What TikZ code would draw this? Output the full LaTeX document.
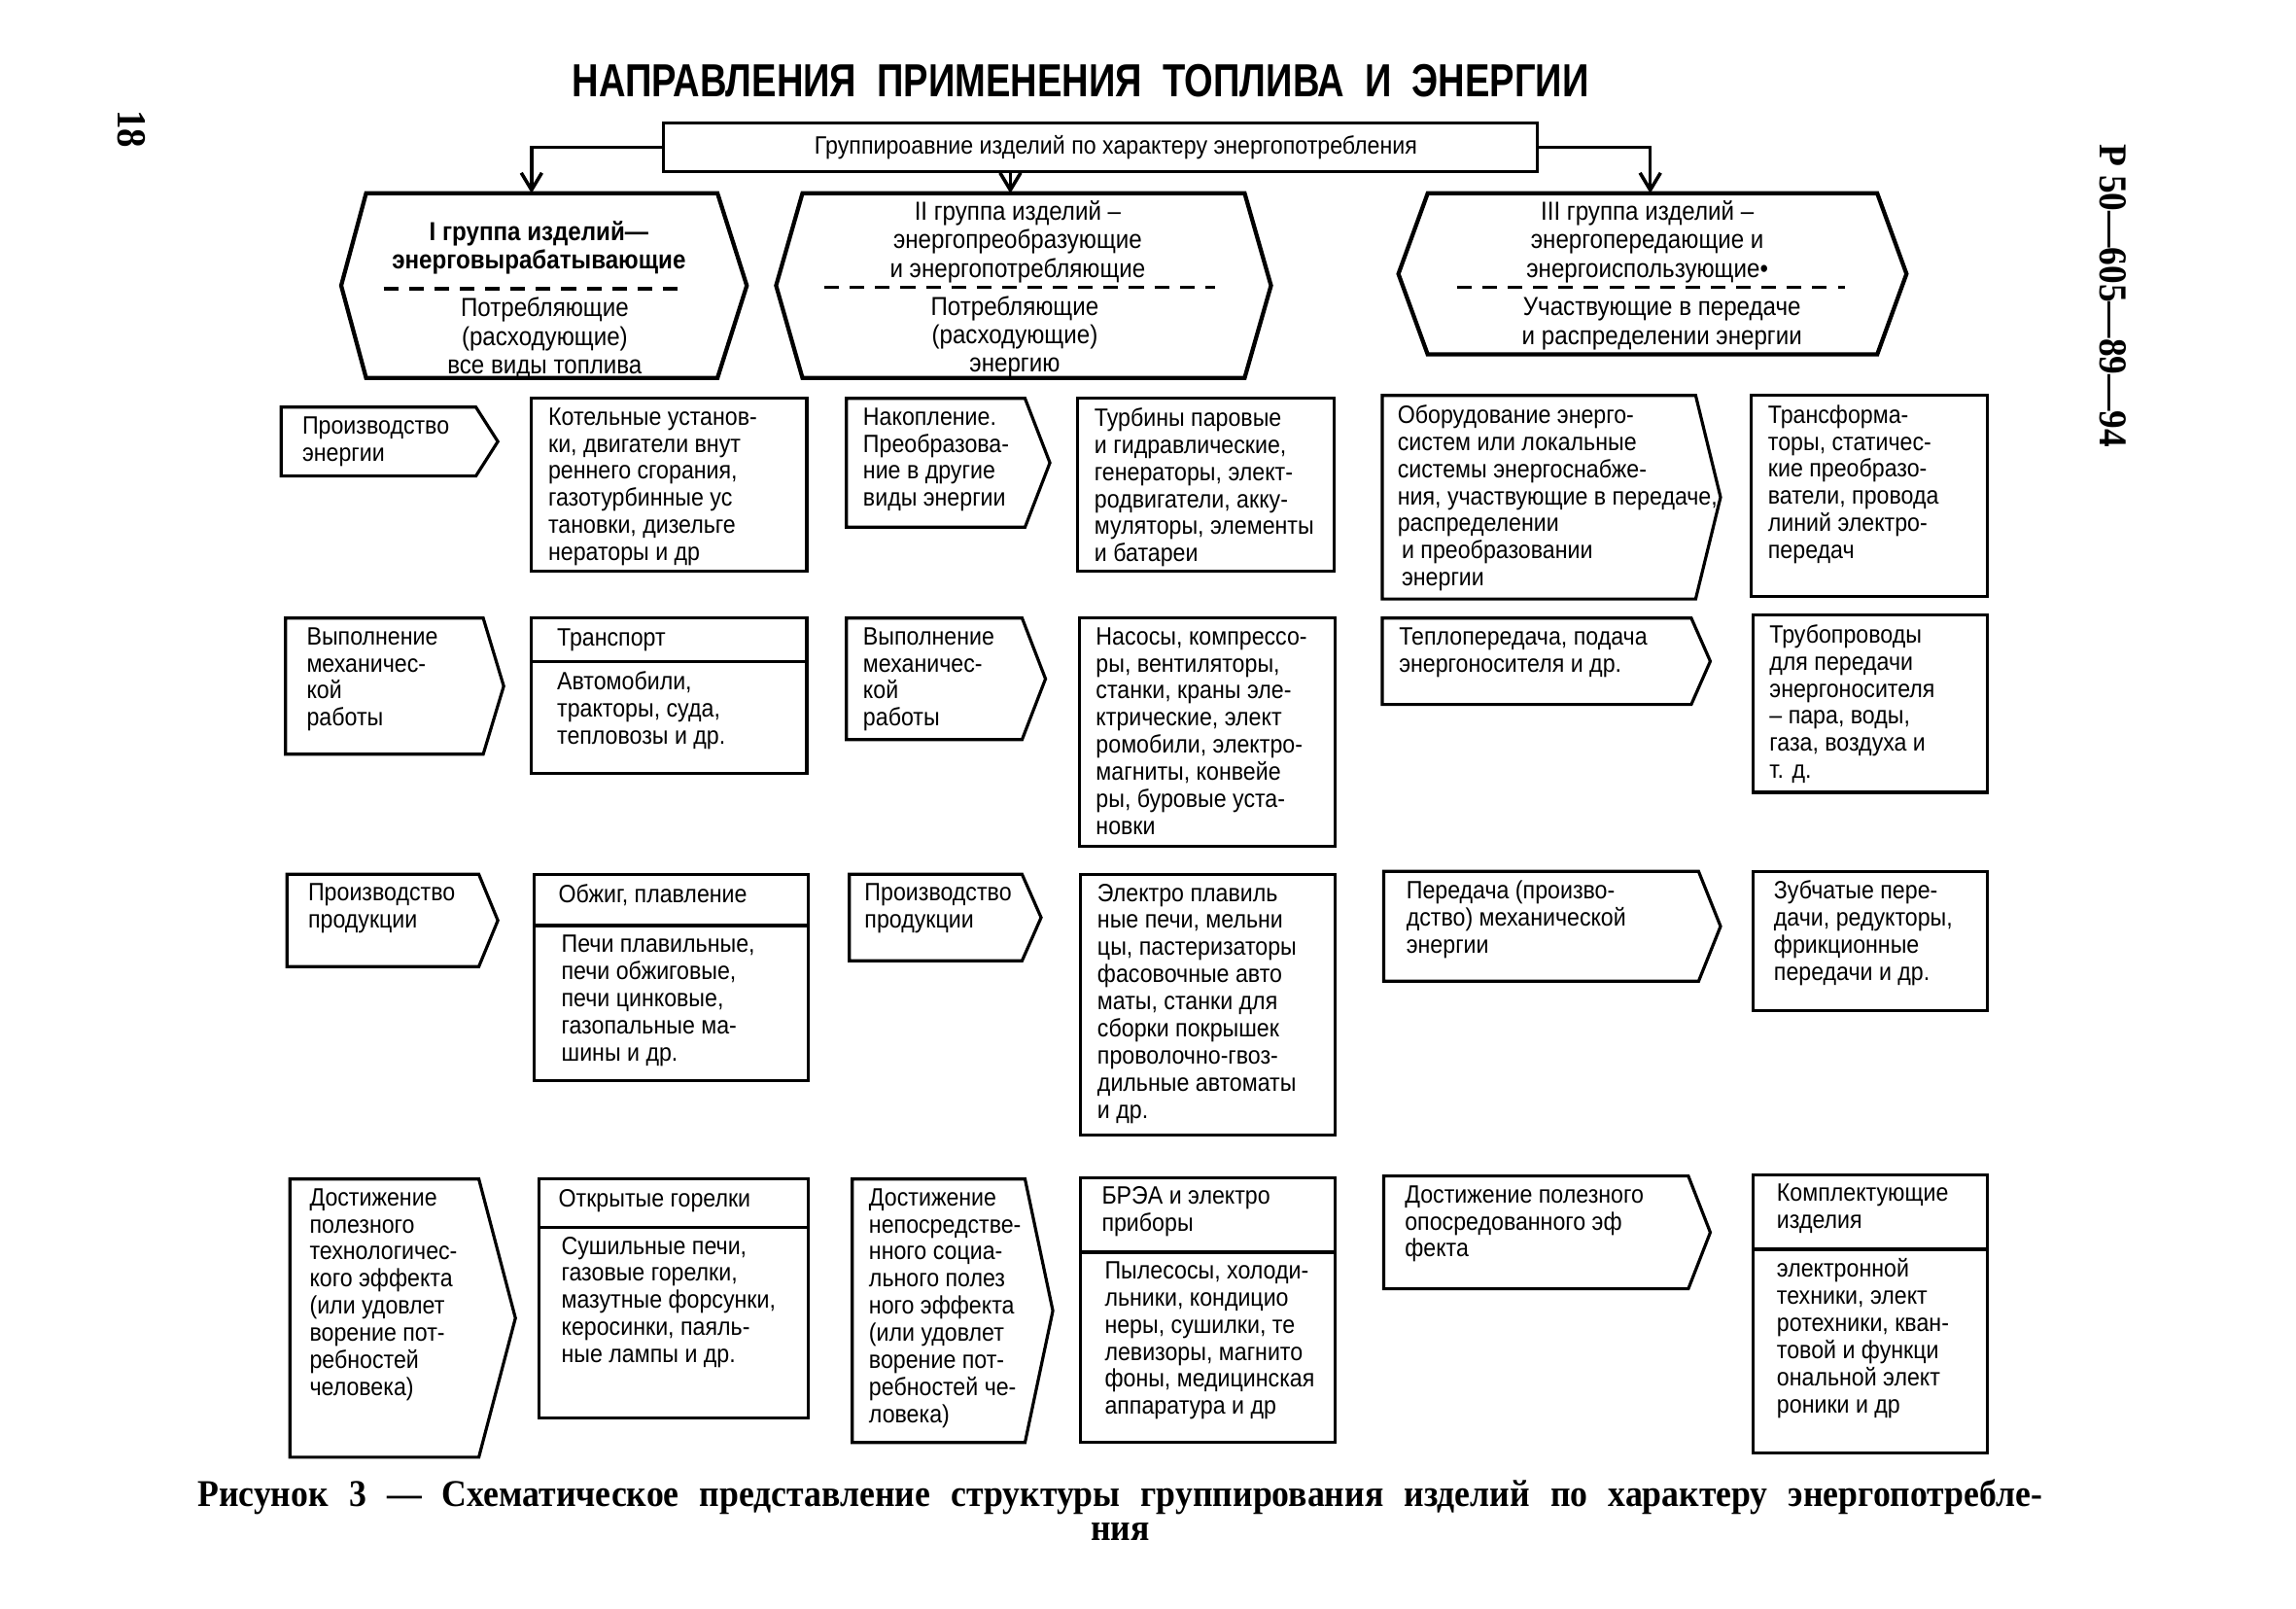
\documentclass[tikz,border=0pt]{standalone}
\usepackage{fontspec}
\setmainfont{Liberation Sans}[FakeStretch=0.9]
\newfontfamily\titlefont{Liberation Sans}[FakeStretch=0.8]
\newfontfamily\capfont{Liberation Serif}[FakeStretch=0.92]
\usetikzlibrary{arrows.meta,positioning}

\begin{document}
\begin{tikzpicture}[x=0.15mm,y=-0.15mm,>={Straight Barb[length=5pt,width=6pt]},
 cell/.style={draw,line width=0.9pt},
 grp/.style={draw,line width=1.2pt},
 txt/.style={anchor=north west,align=left,inner sep=0pt,font=\fontsize{7.3}{7.9}\selectfont,execute at begin node=\strut},
 gtxt/.style={align=center,inner sep=0pt,font=\fontsize{7.6}{8.3}\selectfont},
 sep/.style={line width=1pt,dash pattern=on 1.5mm off 1.1mm},
 conn/.style={line width=1pt},
 captxt/.style={inner sep=0pt,font=\capfont\bfseries\fontsize{11}{13}\selectfont}]
\useasboundingbox (0,0) rectangle (1568,1098);

% page marks and title
\node[rotate=-90,font=\capfont\bfseries\fontsize{12}{14}\selectfont] (pg) at (90,88) {18};
\node[rotate=-90,anchor=west,font=\capfont\bfseries\fontsize{11.5}{13}\selectfont] (code) at (1443,90) {Р 50—605—89—94};
\node[font=\titlefont\bfseries\fontsize{13.5}{16}\selectfont] (title) at (738,55) {НАПРАВЛЕНИЯ\ \ ПРИМЕНЕНИЯ\ \ ТОПЛИВА\ \ И\ \ ЭНЕРГИИ};

% grouping box
\node[draw,line width=0.8pt,minimum width=89.5mm,minimum height=5mm,font=\fontsize{7.3}{7.9}\selectfont] (hdr) at (751.5,100.5) {\hspace*{9pt}Группироавние изделий по характеру энергопотребления};
\coordinate (g1in) at (363,132);
\coordinate (g2in) at (690,132);
\coordinate (g3in) at (1127,132);
\draw[conn,->] (hdr.west) -| (g1in);
\draw[conn,->] (hdr.south -| g2in) -- (g2in);
\draw[conn,->] (hdr.east) -| (g3in);

% three groups
\draw[grp] (250,132) -- (490,132) -- (510,195) -- (490,258) -- (250,258) -- (233,195) -- cycle;
\draw[grp] (548,132) -- (850,132) -- (868,195) -- (850,258) -- (548,258) -- (530,195) -- cycle;
\draw[grp] (975,132) -- (1282,132) -- (1302,187) -- (1282,242) -- (975,242) -- (955,187) -- cycle;
\draw[sep] (262,197) -- (470,197);
\draw[sep] (563,196) -- (830,196);
\draw[sep] (995,196) -- (1260,196);
\node[gtxt,font=\fontsize{7.6}{8.3}\selectfont\bfseries] (g1a) at (368,169) {I группа изделий—\\энерговырабатывающие};
\node[gtxt] (g1b) at (372,231) {Потребляющие\\(расходующие)\\все виды топлива};
\node[gtxt] (g2a) at (695,165) {II группа изделий –\\энергопреобразующие\\и энергопотребляющие};
\node[gtxt] (g2b) at (693,230) {Потребляющие\\(расходующие)\\энергию};
\node[gtxt] (g3a) at (1125,165) {III группа изделий –\\энергопередающие и\\энергоиспользующие•};
\node[gtxt] (g3b) at (1135,221) {Участвующие в передаче\\и распределении энергии};

% row 1
\draw[cell] (192,278) -- (325,278) -- (340,301.5) -- (325,325) -- (192,325) -- cycle;
\draw[cell] (363,272) rectangle (551,390);
\draw[cell] (578,272) -- (700,272) -- (717,316) -- (700,360) -- (578,360) -- cycle;
\draw[cell] (736,272) rectangle (911,390);
\draw[cell] (944,270) -- (1158,270) -- (1175,339.5) -- (1158,409) -- (944,409) -- cycle;
\draw[cell] (1196,270) rectangle (1357,407);
\node[txt] (a1) at (206,284) {Производство\\энергии};
\node[txt] (b1) at (374,278) {Котельные установ-\\ки, двигатели внут\\реннего сгорания,\\газотурбинные ус\\тановки, дизельге\\нераторы и др};
\node[txt] (c1) at (589,278) {Накопление.\\Преобразова-\\ние в другие\\виды энергии};
\node[txt] (d1) at (747,278) {Турбины паровые\\и гидравлические,\\генераторы, элект-\\родвигатели, акку-\\муляторы, элементы\\и батареи};
\node[txt] (e1) at (954,276) {Оборудование энерго-\\систем или локальные\\системы энергоснабже-\\ния, участвующие в передаче,\\распределении\\\,и преобразовании\\\,энергии};
\node[txt] (f1) at (1207,276) {Трансформа-\\торы, статичес-\\кие преобразо-\\ватели, провода\\линий электро-\\передач};

% row 2
\draw[cell] (195,422) -- (330,422) -- (344,468.5) -- (330,515) -- (195,515) -- cycle;
\draw[cell] (363,422) rectangle (551,528);
\draw[cell] (363,452) -- (551,452);
\draw[cell] (578,422) -- (698,422) -- (714,463.5) -- (698,505) -- (578,505) -- cycle;
\draw[cell] (737,422) rectangle (912,578);
\draw[cell] (944,422) -- (1155,422) -- (1168,451.5) -- (1155,481) -- (944,481) -- cycle;
\draw[cell] (1197,420) rectangle (1357,541);
\node[txt] (a2) at (209,428) {Выполнение\\механичес-\\кой\\работы};
\node[txt] (b2h) at (380,428) {Транспорт};
\node[txt] (b2) at (380,458) {Автомобили,\\тракторы, суда,\\тепловозы и др.};
\node[txt] (c2) at (589,428) {Выполнение\\механичес-\\кой\\работы};
\node[txt] (d2) at (748,428) {Насосы, компрессо-\\ры, вентиляторы,\\станки, краны эле-\\ктрические, элект\\ромобили, электро-\\магниты, конвейе\\ры, буровые уста-\\новки};
\node[txt] (e2) at (955,428) {Теплопередача, подача\\энергоносителя и др.};
\node[txt] (f2) at (1208,426) {Трубопроводы\\для передачи\\энергоносителя\\– пара, воды,\\газа, воздуха и\\т. д.};

% row 3
\draw[cell] (196,597) -- (327,597) -- (340,628.5) -- (327,660) -- (196,660) -- cycle;
\draw[cell] (365,597) rectangle (552,738);
\draw[cell] (365,632) -- (552,632);
\draw[cell] (580,597) -- (698,597) -- (711,626.5) -- (698,656) -- (580,656) -- cycle;
\draw[cell] (738,597) rectangle (912,775);
\draw[cell] (945,595) -- (1160,595) -- (1175,632.5) -- (1160,670) -- (945,670) -- cycle;
\draw[cell] (1197,595) rectangle (1357,690);
\node[txt] (a3) at (210,603) {Производство\\продукции};
\node[txt] (b3h) at (381,603) {Обжиг, плавление};
\node[txt] (b3) at (383,638) {Печи плавильные,\\печи обжиговые,\\печи цинковые,\\газопальные ма-\\шины и др.};
\node[txt] (c3) at (590,603) {Производство\\продукции};
\node[txt] (d3) at (749,603) {Электро плавиль\\ные печи, мельни\\цы, пастеризаторы\\фасовочные авто\\маты, станки для\\сборки покрышек\\проволочно-гвоз-\\дильные автоматы\\и др.};
\node[txt] (e3) at (960,601) {Передача (произво-\\дство) механической\\энергии};
\node[txt] (f3) at (1211,601) {Зубчатые пере-\\дачи, редукторы,\\фрикционные\\передачи и др.};

% row 4
\draw[cell] (198,805) -- (327,805) -- (352,900) -- (327,995) -- (198,995) -- cycle;
\draw[cell] (368,805) rectangle (552,968);
\draw[cell] (368,838) -- (552,838);
\draw[cell] (582,805) -- (700,805) -- (719,895) -- (700,985) -- (582,985) -- cycle;
\draw[cell] (738,804) rectangle (912,985);
\draw[cell] (738,855) -- (912,855);
\draw[cell] (945,803) -- (1153,803) -- (1168,841.5) -- (1153,880) -- (945,880) -- cycle;
\draw[cell] (1197,802) rectangle (1357,992);
\draw[cell] (1197,853) -- (1357,853);
\node[txt] (a4) at (211,811) {Достижение\\полезного\\технологичес-\\кого эффекта\\(или удовлет\\ворение пот-\\ребностей\\человека)};
\node[txt] (b4h) at (381,811) {Открытые горелки};
\node[txt] (b4) at (383,844) {Сушильные печи,\\газовые горелки,\\мазутные форсунки,\\керосинки, паяль-\\ные лампы и др.};
\node[txt] (c4) at (593,811) {Достижение\\непосредстве-\\нного социа-\\льного полез\\ного эффекта\\(или удовлет\\ворение пот-\\ребностей че-\\ловека)};
\node[txt] (d4h) at (752,810) {БРЭА и электро\\приборы};
\node[txt] (d4) at (754,861) {Пылесосы, холоди-\\льники, кондицио\\неры, сушилки, те\\левизоры, магнито\\фоны, медицинская\\аппаратура и др};
\node[txt] (e4) at (959,809) {Достижение полезного\\опосредованного эф\\фекта};
\node[txt] (f4h) at (1213,808) {Комплектующие\\изделия};
\node[txt] (f4) at (1213,859) {электронной\\техники, элект\\ротехники, кван-\\товой и функци\\ональной элект\\роники и др};

% caption
\node[captxt] (cap) at (765,1022) {\makebox[189mm][s]{Рисунок 3 — Схематическое представление структуры группирования изделий по характеру энергопотребле-}};
\node[captxt] (cap2) at (765,1046) {ния};
\end{tikzpicture}
\end{document}
